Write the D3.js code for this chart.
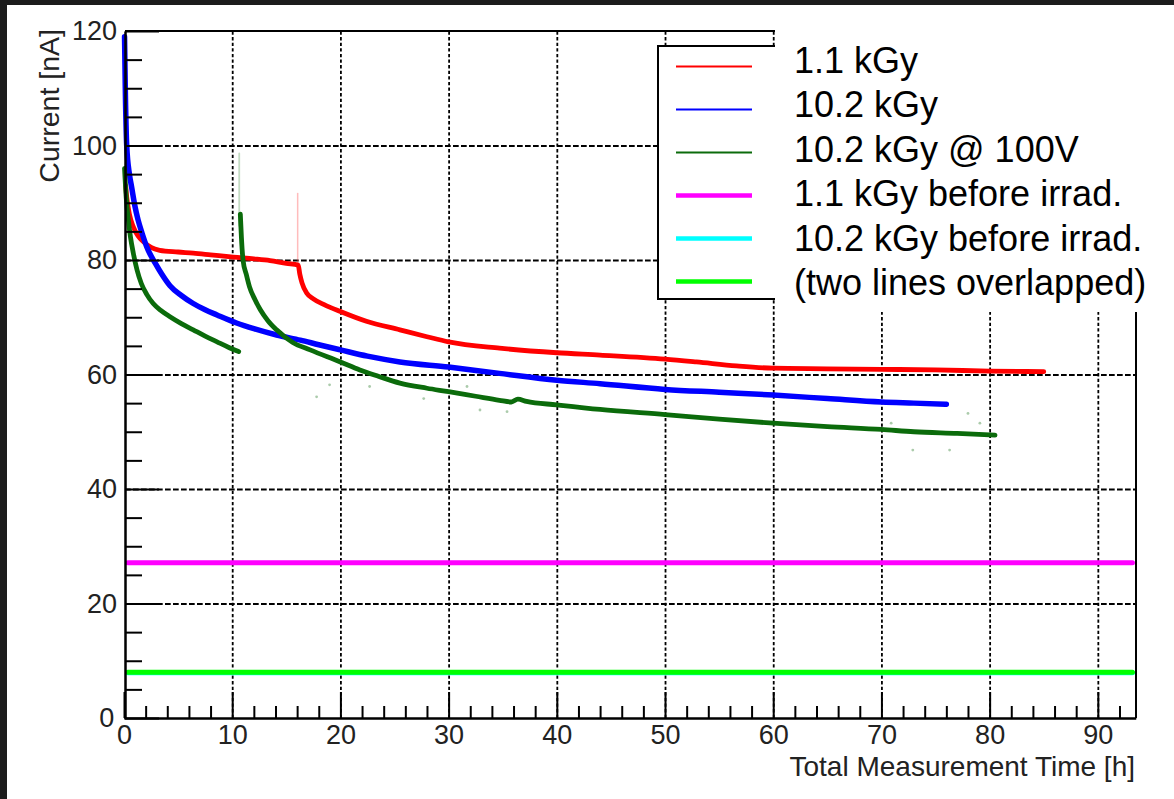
<!DOCTYPE html>
<html>
<head>
<meta charset="utf-8">
<script src="https://cdn.jsdelivr.net/npm/d3@7/dist/d3.min.js"></script>
<style>
  html, body { margin: 0; padding: 0; background: #fff; }
  svg { display: block; }
  text { font-family: "Liberation Sans", Arial, Helvetica, sans-serif; }
</style>
</head>
<body>
<svg id="chart" width="1174" height="799"></svg>
<script>
// ---- data: leakage current [nA] vs total measurement time [h] ----
const xMajorTicks = [0, 10, 20, 30, 40, 50, 60, 70, 80, 90];
const xMinorTicks = d3.range(2, 93, 2).filter(v => v % 10 !== 0);
const yMajorTicks = [0, 20, 40, 60, 80, 100, 120];
const yMinorTicks = d3.range(5, 120, 5).filter(v => v % 20 !== 0);

const legendLabels = ["1.1 kGy", "10.2 kGy", "10.2 kGy @ 100V",
  "1.1 kGy before irrad.", "10.2 kGy before irrad.", "(two lines overlapped)"];

// 1.1 kGy
const red11 = [[0.15, 93], [0.25, 91], [0.5, 88], [0.86, 85.8], [1.3, 84.2], [1.8, 83.2],
  [2.5, 82.2], [3.3, 81.7], [5, 81.4], [6.4, 81.2], [8, 80.9], [10.1, 80.5], [12, 80.2],
  [13.5, 79.9], [15, 79.4], [16.1, 79.1], [16.25, 77.5], [16.45, 76], [16.9, 74.2],
  [17.5, 73.2], [18.5, 72.2], [20, 71.0], [22.4, 69.3], [25.5, 67.8], [28, 66.6],
  [30, 65.7], [34.7, 64.6], [40, 63.8], [44, 63.4], [50, 62.7], [52.9, 62.2],
  [56.6, 61.5], [60, 61.1], [65, 61.0], [70, 60.9], [75, 60.8], [80, 60.6], [85, 60.5]];
const red11Spike = [[16.05, 79], [16.05, 91.6]];

// 10.2 kGy
const blue102 = [[0.05, 119], [0.12, 110], [0.25, 100], [0.5, 95], [0.7, 92.8], [1.0, 89.5],
  [1.3, 87], [1.7, 84.5], [2.1, 82.3], [2.9, 79.4], [3.5, 77.5], [4.25, 75.5], [5.3, 73.8],
  [6.4, 72.4], [7.5, 71.3], [8.6, 70.4], [10.4, 69], [12, 68], [14.1, 66.9], [16.3, 66],
  [18, 65.2], [20, 64.3], [22.5, 63.2], [25.5, 62.2], [30, 61.3], [34.7, 60.2], [40, 59.0],
  [44, 58.4], [50, 57.4], [55, 56.9], [60, 56.4], [65, 55.8], [70, 55.2], [73, 55], [76, 54.8]];

// 10.2 kGy @ 100V, first and second run
const green100A = [[0.05, 96], [0.2, 91], [0.4, 87], [0.6, 84], [0.86, 81.2], [1.2, 78.3],
  [1.6, 75.9], [2.1, 74], [2.7, 72.4], [3.4, 71.2], [4.25, 70.1], [5.3, 68.9], [6.4, 67.8],
  [7.5, 66.7], [8.6, 65.7], [9.6, 64.8], [10.6, 64.0]];
const green100B = [[10.75, 88], [10.85, 84], [11.0, 80], [11.3, 77.5], [11.6, 75.3],
  [12.1, 73.1], [12.6, 71.3], [13.3, 69.4], [14.1, 67.8], [15.6, 65.6], [17.2, 64.3],
  [20, 62.2], [21.8, 60.8], [23.5, 59.7], [25.5, 58.5], [28, 57.6], [30, 57.0], [32.5, 56.2],
  [34.7, 55.5], [35.8, 55.2], [36.4, 55.7], [37.2, 55.3], [40, 54.7],
  [44, 53.9], [50, 53.0], [55, 52.2], [60, 51.5], [65, 50.9], [70, 50.4], [73, 50.0],
  [77, 49.7], [80.5, 49.4]];
const green100Spike = [[10.65, 86], [10.65, 98.6]];
const green100Outliers = [[17.8, 56.1], [19.0, 58.2], [22.7, 57.9], [27.7, 55.8], [31.7, 57.9],
  [32.9, 53.8], [35.4, 53.5], [70.9, 51.5], [72.9, 46.8], [76.3, 46.8], [78, 53.2], [79.1, 51.5]];

// before irradiation (constant levels)
const before11 = [[0.35, 27.1], [93.2, 27.1]];
const before102 = [[0.35, 7.9], [93.2, 7.9]];
const beforeOverlap = [[0.35, 8.0], [93.2, 8.0]];

// ---- layout ----
const svg = d3.select("#chart");
const W = 1174, H = 799;
const x = d3.scaleLinear().domain([0, 93.5]).range([124, 1135.7]);
const y = d3.scaleLinear().domain([0, 120]).range([718, 31]);
const frameL = 125, frameR = 1136, frameT = 31, frameB = 718;

svg.append("rect").attr("width", W).attr("height", H).attr("fill", "#fff");
// dark surround at top and left
svg.append("rect").attr("x", 0).attr("y", 0).attr("width", W).attr("height", 5).attr("fill", "#1c1c1c");
svg.append("rect").attr("x", 0).attr("y", 0).attr("width", 7).attr("height", H).attr("fill", "#1c1c1c");

// ---- grid ----
const gridX = svg.append("g").attr("transform", `translate(0,${frameB})`)
  .call(d3.axisBottom(x).tickValues(xMajorTicks.filter(v => v > 0))
    .tickSize(-(frameB - frameT)).tickFormat("").tickSizeOuter(0));
gridX.select(".domain").remove();
gridX.selectAll("line").attr("stroke", "#000").attr("stroke-width", 1.8)
  .attr("stroke-dasharray", "3.3,2.3");

const gridY = svg.append("g").attr("transform", `translate(${frameL},0)`)
  .call(d3.axisLeft(y).tickValues(yMajorTicks.filter(v => v > 0 && v < 120))
    .tickSize(-(frameR - frameL)).tickFormat("").tickSizeOuter(0));
gridY.select(".domain").remove();
gridY.selectAll("line").attr("stroke", "#000").attr("stroke-width", 1.8)
  .attr("stroke-dasharray", "5.7,2.3");

// ---- data marks ----
const line = d3.line().x(d => x(d[0])).y(d => y(d[1])).curve(d3.curveMonotoneX);
const straight = d3.line().x(d => x(d[0])).y(d => y(d[1]));
const plot = svg.append("g");

function trace(data, color, width, opacity = 1, gen = line) {
  plot.append("path").datum(data).attr("d", gen).attr("fill", "none")
    .attr("stroke", color).attr("stroke-width", width).attr("stroke-opacity", opacity)
    .attr("stroke-linejoin", "round").attr("stroke-linecap", "round");
}

trace(before11, "#ff00ff", 5, 1, straight);
trace(before102, "#00ffff", 5, 1, straight);
trace(beforeOverlap, "#00ff00", 5, 1, straight);

trace(red11Spike, "#ff4040", 1.5, 0.35, straight);
trace(green100Spike, "#3a8a3a", 1.8, 0.3, straight);

plot.selectAll("circle.out").data(green100Outliers).enter().append("circle")
  .attr("cx", d => x(d[0])).attr("cy", d => y(d[1])).attr("r", 1.4)
  .attr("fill", "#2e7d2e").attr("fill-opacity", 0.4);

trace(red11, "#ff0000", 4.8);
trace(blue102, "#0000ff", 5.5);
trace(green100A, "#0b6b0b", 4.8);
trace(green100B, "#0b6b0b", 4.8);

// ---- axes ----
const axisStyle = g => {
  g.select(".domain").attr("stroke", "#000").attr("stroke-width", 2);
  g.selectAll(".tick line").attr("stroke", "#000").attr("stroke-width", 2);
  g.selectAll("text").attr("fill", "#222").attr("font-size", 27)
    .attr("font-family", '"Liberation Sans", Arial, sans-serif');
};

svg.append("g").attr("transform", `translate(0,${frameB})`)
  .call(d3.axisBottom(x).tickValues(xMinorTicks).tickSize(-12).tickFormat("").tickSizeOuter(0))
  .call(axisStyle);
svg.append("g").attr("transform", `translate(0,${frameB})`)
  .call(d3.axisBottom(x).tickValues(xMajorTicks).tickSize(-26).tickPadding(7).tickSizeOuter(0))
  .call(axisStyle);

svg.append("g").attr("transform", `translate(${frameL},0)`)
  .call(d3.axisLeft(y).tickValues(yMinorTicks).tickSize(-17).tickFormat("").tickSizeOuter(0))
  .call(axisStyle);
const yAx = svg.append("g").attr("transform", `translate(${frameL},0)`)
  .call(d3.axisLeft(y).tickValues(yMajorTicks).tickSize(-34).tickPadding(8).tickSizeOuter(0))
  .call(axisStyle);
yAx.selectAll(".tick").filter(d => d === 0).select("text").attr("dx", "-0.1em");

// frame top and right
svg.append("line").attr("x1", frameL).attr("x2", frameR).attr("y1", frameT).attr("y2", frameT)
  .attr("stroke", "#000").attr("stroke-width", 2);
svg.append("line").attr("x1", frameR).attr("x2", frameR).attr("y1", frameT).attr("y2", frameB)
  .attr("stroke", "#000").attr("stroke-width", 2);

// axis titles
svg.append("text").attr("x", 1135).attr("y", 775.5).attr("text-anchor", "end")
  .attr("font-size", 28).attr("fill", "#222").text("Total Measurement Time [h]");
svg.append("text").attr("transform", "translate(59,29) rotate(-90)").attr("text-anchor", "end")
  .attr("font-size", 28.5).attr("fill", "#222").text("Current [nA]");

// ---- legend ----
const legendColors = ["#ff0000", "#0000ff", "#0b6b0b", "#ff00ff", "#00ffff", "#00ff00"];
const legendWidths = [2, 2, 2, 4.5, 4.5, 4.5];
svg.append("rect").attr("x", 658).attr("y", 46).attr("width", 200).attr("height", 253)
  .attr("fill", "#fff").attr("stroke", "#000").attr("stroke-width", 2);
const legend = svg.append("g");
legendColors.forEach((c, i) => {
  const ly = 66.5 + i * 43;
  legend.append("line").attr("x1", 676).attr("x2", 752).attr("y1", ly).attr("y2", ly)
    .attr("stroke", c).attr("stroke-width", legendWidths[i]);
});

// label panel laid over the right part of the legend
svg.append("rect").attr("x", 775).attr("y", 5).attr("width", W - 775).attr("height", 307)
  .attr("fill", "#fff");
legendLabels.forEach((t, i) => {
  svg.append("text").attr("x", 794).attr("y", 73 + i * 44.4)
    .attr("font-size", 36).attr("fill", "#000").text(t);
});
</script>
</body>
</html>
